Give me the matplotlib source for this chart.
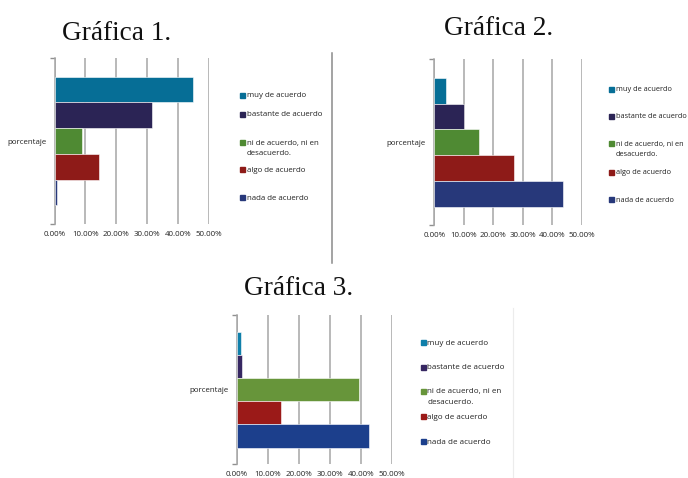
"""Three horizontal bar charts of survey agreement levels (Gráfica 1-3)."""

import matplotlib

matplotlib.use("Agg")
import matplotlib.pyplot as plt
from matplotlib.lines import Line2D
from matplotlib.patches import Rectangle

W, H = 688, 478

categories = [
    "muy de acuerdo",
    "bastante de acuerdo",
    "ni de acuerdo, ni en\ndesacuerdo.",
    "algo de acuerdo",
    "nada de acuerdo",
]
row_label = "porcentaje"
x_ticks = [0, 10, 20, 30, 40, 50]

# percentages per chart, same order as categories
grafica1 = [44.8, 31.4, 9.0, 14.5, 0.7]
grafica2 = [3.8, 10.1, 15.0, 27.1, 43.8]
grafica3 = [1.4, 1.8, 39.6, 14.3, 42.6]

colors1 = ["#066e96", "#2b2455", "#4f8a33", "#8e1b18", "#27387a"]
colors3 = ["#0f7faa", "#362762", "#67953a", "#9b1a18", "#1c3f8c"]

fig = plt.figure(figsize=(W / 100, H / 100), dpi=100)
fig.patch.set_facecolor("white")

SMALL = dict(family="Open Sans", color="#222222")


def px_rect(x0, y0, x1, y1):
    """Pixel box (top-left origin) -> figure fraction rect."""
    return [x0 / W, 1 - y1 / H, (x1 - x0) / W, (y1 - y0) / H]


def draw_chart(rect, values, colors, legend_x, legend_rows, legend_fs,
               title, title_xy):
    ax = fig.add_axes(rect)
    step = 0.155
    n = len(values)
    for i, (val, col) in enumerate(zip(values, colors)):
        yc = ((n - 1) / 2 - i) * step
        ax.barh(yc, val, height=step, color=col, edgecolor="white",
                linewidth=0.4, zorder=3)
    ax.set_xlim(0, 50)
    ax.set_ylim(-0.5, 0.5)
    ax.set_xticks(x_ticks)
    ax.set_xticklabels([f"{t:.2f}%" for t in x_ticks], fontsize=5.7, **SMALL)
    ax.tick_params(axis="x", length=0, pad=5)
    ax.set_yticks([-0.5, 0.5])
    ax.set_yticklabels([])
    ax.tick_params(axis="y", which="major", length=3.5, color="#909090",
                   width=1)
    ax.set_yticks([0], minor=True)
    ax.set_yticklabels([row_label], minor=True, fontsize=5.7, **SMALL)
    ax.tick_params(axis="y", which="minor", length=0, pad=6)
    ax.grid(axis="x", color="#a6a6a6", linewidth=1.1, zorder=0)
    for side in ("top", "right", "bottom"):
        ax.spines[side].set_visible(False)
    ax.spines["left"].set_color("#a6a6a6")
    ax.spines["left"].set_linewidth(1.1)
    ax.set_facecolor("none")

    # legend drawn by hand: square swatch beside the first line of each label
    for label, col, ly in zip(categories, colors, legend_rows):
        fig.patches.append(Rectangle(((legend_x - 6.5) / W, 1 - (ly + 2.5) / H),
                                     5 / W, 5 / H, color=col,
                                     transform=fig.transFigure))
        for j, line in enumerate(label.split("\n")):
            fig.text(legend_x / W, 1 - (ly + 2.2 + j * 10.3) / H, line,
                     fontsize=legend_fs, va="baseline", ha="left", **SMALL)

    fig.text(title_xy[0] / W, 1 - title_xy[1] / H, title,
             family="Liberation Serif", fontsize=19.6, ha="center",
             va="baseline", color="#111111")


draw_chart(px_rect(54.5, 58, 209.3, 224), grafica1, colors1,
           246.5, [95, 114, 142.7, 170, 197.3], 5.7, "Gráfica 1.", (116.7, 40))
draw_chart(px_rect(434.3, 59.3, 581.7, 225.3), grafica2, colors1,
           615.5, [89, 116, 143.7, 172, 200], 5.35, "Gráfica 2.", (498.3, 35))
draw_chart(px_rect(236.7, 315, 391.7, 464.3), grafica3, colors3,
           427, [342.7, 367, 391, 416.7, 441.7], 5.8, "Gráfica 3.", (298.3, 295))

# separator between the two top charts and faint frame edge of the third
fig.add_artist(Line2D([332.3 / W] * 2, [1 - 52.7 / H, 1 - 263 / H],
                      color="#8a8a8a", linewidth=1.1,
                      transform=fig.transFigure))
fig.add_artist(Line2D([513.3 / W] * 2, [1 - 308 / H, 1 - 477 / H],
                      color="#ececec", linewidth=0.8,
                      transform=fig.transFigure))

fig.savefig("out.png", dpi=100)
